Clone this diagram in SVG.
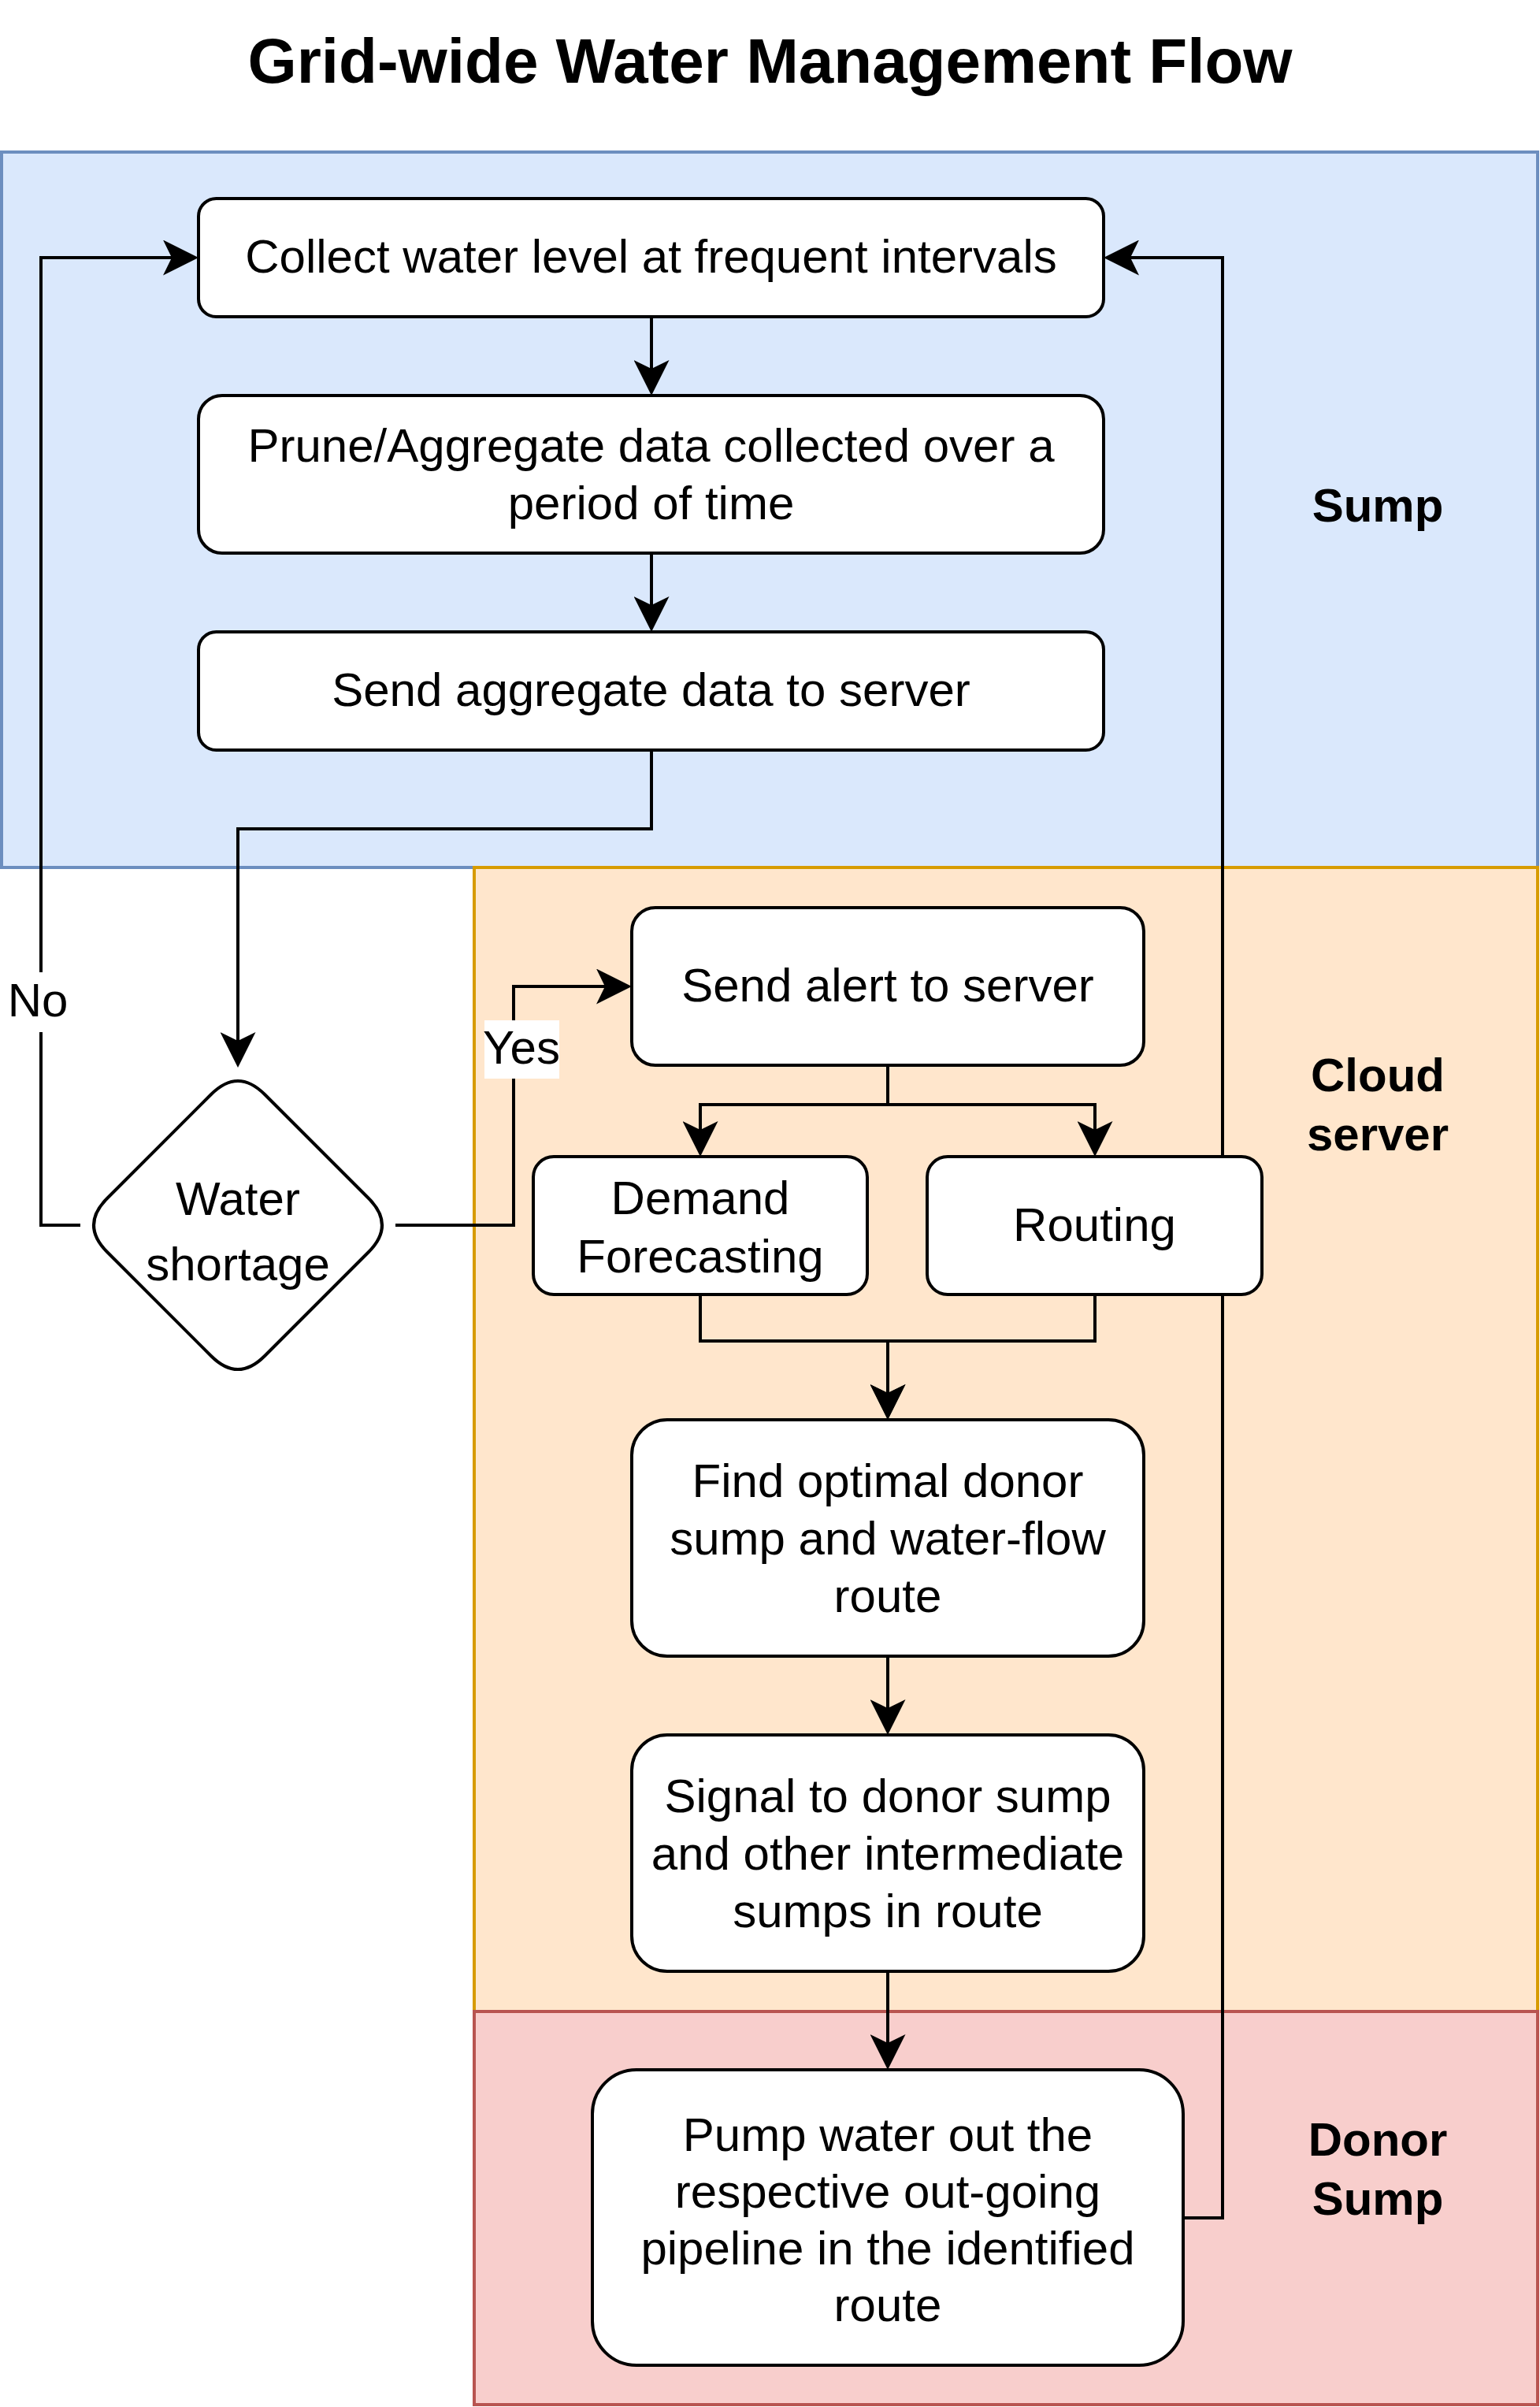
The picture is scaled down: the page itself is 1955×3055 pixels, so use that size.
<svg xmlns="http://www.w3.org/2000/svg" width="1955" height="3055" viewBox="0 0 1955 3055">
<style>
text{font-family:"Liberation Sans",Arial,Helvetica,sans-serif;fill:#000}
.t{font-size:60px;text-anchor:middle}
.b{font-weight:bold}
.node{fill:#fff;stroke:#000;stroke-width:4}
.edge{fill:none;stroke:#000;stroke-width:4;marker-end:url(#arr)}
.lblbg{fill:#fff;stroke:none}
</style>
<defs>
<marker id="arr" markerUnits="userSpaceOnUse" viewBox="0 0 46 45" markerWidth="46" markerHeight="45" refX="15" refY="22.5" orient="auto">
<path d="M45,22.5 L0,0 L11,22.5 L0,45 Z" fill="#000"/>
</marker>
</defs>
<rect width="1955" height="3055" fill="#fff"/>
<text id="title" x="977.5" y="105" class="b" style="font-size:80px;text-anchor:middle">Grid-wide Water Management Flow</text>

<g id="lane-sump">
<rect x="2" y="193" width="1950" height="908" fill="#dae8fc" stroke="#6c8ebf" stroke-width="4"/>
<text class="t b" x="1749" y="662">Sump</text>
</g>
<g id="lane-cloud">
<rect x="602" y="1101" width="1350" height="1452" fill="#ffe6cc" stroke="#d79b00" stroke-width="4"/>
<text class="t b" x="1749" y="1385">Cloud</text>
<text class="t b" x="1749" y="1460">server</text>
</g>
<g id="lane-donor">
<rect x="602" y="2553" width="1350" height="499" fill="#f8cecc" stroke="#b85450" stroke-width="4"/>
<text class="t b" x="1749" y="2736">Donor</text>
<text class="t b" x="1749" y="2811">Sump</text>
</g>

<g id="connectors">
<path class="edge" d="M827,402 V472"/>
<path class="edge" d="M827,702 V772"/>
<path class="edge" d="M827,952 V1052 H302 V1325"/>
<path class="edge" d="M502,1555 H652 V1252 H772"/>
<path class="edge" d="M102,1555 H52 V327 H222"/>
<path class="edge" d="M1127,1352 V1402 H889 V1438"/>
<path class="edge" d="M1127,1352 V1402 H1390 V1438"/>
<path class="edge" d="M889,1643 V1702 H1127 V1772"/>
<path class="edge" d="M1390,1643 V1702 H1127 V1772"/>
<path class="edge" d="M1127,2102 V2172"/>
<path class="edge" d="M1127,2502 V2597"/>
<path class="edge" d="M1502,2815 H1552 V327 H1431"/>
<g id="label-yes">
<rect class="lblbg" x="615" y="1295" width="95" height="74"/>
<text class="t" x="662" y="1350">Yes</text>
</g>
<g id="label-no">
<rect class="lblbg" x="9" y="1234" width="79" height="76"/>
<text class="t" x="48" y="1290">No</text>
</g>
</g>

<g id="collect">
<rect class="node" x="252" y="252" width="1149" height="150" rx="22.5"/>
<text class="t" x="826.5" y="346">Collect water level at frequent intervals</text>
</g>
<g id="prune">
<rect class="node" x="252" y="502" width="1149" height="200" rx="30"/>
<text class="t" x="826.5" y="586">Prune/Aggregate data collected over a</text>
<text class="t" x="826.5" y="659">period of time</text>
</g>
<g id="send-aggregate">
<rect class="node" x="252" y="802" width="1149" height="150" rx="22.5"/>
<text class="t" x="826.5" y="896">Send aggregate data to server</text>
</g>
<g id="water-shortage">
<path class="node" d="M268,1389 Q302,1355 336,1389 L468,1521 Q502,1555 468,1589 L336,1721 Q302,1755 268,1721 L136,1589 Q102,1555 136,1521 Z"/>
<text class="t" x="302" y="1542">Water</text>
<text class="t" x="302" y="1625">shortage</text>
</g>
<g id="send-alert">
<rect class="node" x="802" y="1152" width="650" height="200" rx="30"/>
<text class="t" x="1127" y="1271">Send alert to server</text>
</g>
<g id="demand-forecasting">
<rect class="node" x="677" y="1468" width="424" height="175" rx="26"/>
<text class="t" x="889" y="1541">Demand</text>
<text class="t" x="889" y="1615">Forecasting</text>
</g>
<g id="routing">
<rect class="node" x="1177" y="1468" width="425" height="175" rx="26"/>
<text class="t" x="1389.5" y="1575">Routing</text>
</g>
<g id="find-donor">
<rect class="node" x="802" y="1802" width="650" height="300" rx="45"/>
<text class="t" x="1127" y="1900">Find optimal donor</text>
<text class="t" x="1127" y="1973">sump and water-flow</text>
<text class="t" x="1127" y="2046">route</text>
</g>
<g id="signal">
<rect class="node" x="802" y="2202" width="650" height="300" rx="45"/>
<text class="t" x="1127" y="2300">Signal to donor sump</text>
<text class="t" x="1127" y="2373">and other intermediate</text>
<text class="t" x="1127" y="2446">sumps in route</text>
</g>
<g id="pump">
<rect class="node" x="752" y="2627" width="750" height="375" rx="56"/>
<text class="t" x="1127" y="2730">Pump water out the</text>
<text class="t" x="1127" y="2802">respective out-going</text>
<text class="t" x="1127" y="2874">pipeline in the identified</text>
<text class="t" x="1127" y="2946">route</text>
</g>
</svg>
